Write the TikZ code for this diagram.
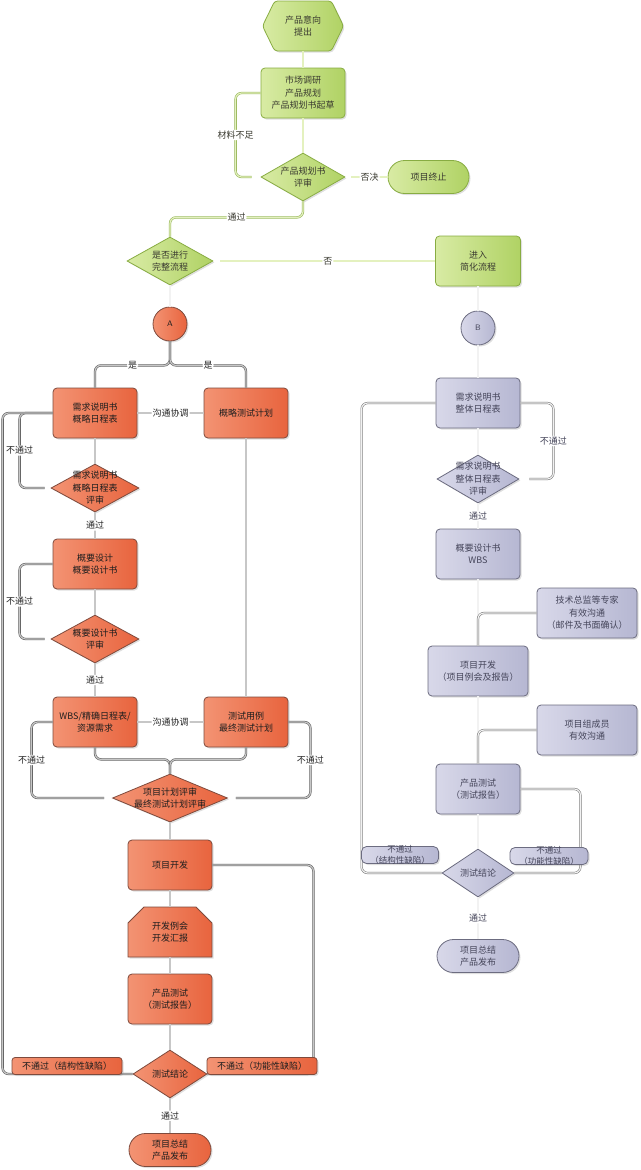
\documentclass[tikz,border=0pt]{standalone}
\usepackage{fontspec}
\setmainfont{Noto Sans CJK SC}
\usetikzlibrary{shapes.geometric,shapes.misc,shapes.symbols,shadows,calc}
\definecolor{gL}{HTML}{D8EBA4}
\definecolor{gR}{HTML}{B0D264}
\definecolor{gD}{HTML}{88AC42}
\definecolor{gT}{HTML}{3A3A30}
\definecolor{rL}{HTML}{F39373}
\definecolor{rR}{HTML}{E8643E}
\definecolor{rD}{HTML}{7E4A3C}
\definecolor{rT}{HTML}{1E1E1E}
\definecolor{bL}{HTML}{D8D8E9}
\definecolor{bR}{HTML}{B6B7D2}
\definecolor{bD}{HTML}{6C6C80}
\definecolor{bT}{HTML}{45455A}
\tikzset{
  base/.style={align=center, font=\fontsize{9}{12.5}\selectfont, inner sep=1pt, line width=0.8pt,
     drop shadow={opacity=0.25, shadow xshift=1.5pt, shadow yshift=-1.5pt}},
  gsty/.style={base, draw=gD, left color=gL, right color=gR, text=gT},
  rsty/.style={base, draw=rD, left color=rL, right color=rR, text=rT},
  bsty/.style={base, draw=bD, left color=bL, right color=bR, text=bT},
  box/.style={rectangle, rounded corners=4pt, minimum width=84pt, minimum height=50pt},
  dia/.style={diamond, inner sep=0pt, minimum height=48pt},
  stad/.style={rounded rectangle, minimum width=84pt, minimum height=33pt},
  lbl/.style={align=center, font=\fontsize{9}{12.5}\selectfont, inner sep=0pt},
  elab/.style={fill=white, inner sep=1pt, font=\fontsize{9}{11}\selectfont, text=#1},
  elab/.default={black!85},
  gline/.style={draw=gD!90, line width=0.55pt, double=gL!70, double distance=1.2pt, rounded corners=6pt},
  rline/.style={draw=black!65, line width=0.55pt, double=black!22, double distance=1.2pt, rounded corners=6pt},
  bline/.style={draw=black!55, line width=0.5pt, double=black!5, double distance=1.2pt, rounded corners=6pt},
}
\begin{document}
\begin{tikzpicture}[x=1pt,y=-1pt]
\useasboundingbox (0,0) rectangle (640,1170);
% ---------- green ----------
\node[gsty, signal, signal to=east and west, signal pointer angle=128, rounded corners=3pt, minimum width=81pt, minimum height=50pt] (start) at (303,26) {产品意向\\提出};
\node[gsty, box] (mkt) at (303,93) {市场调研\\产品规划\\产品规划书起草};
\node[gsty, dia, minimum width=84pt, label={[lbl,text=gT]center:{产品规划书\\评审}}] (rev1) at (303,177) {};
\node[gsty, stad, minimum width=83pt] (stop) at (428.5,177) {项目终止};
\node[gsty, dia, minimum width=86pt, label={[lbl,text=gT]center:{是否进行\\完整流程}}] (full) at (170,261) {};
\node[gsty, box, minimum width=85pt] (simp) at (478,261) {进入\\简化流程};
\node[rsty, circle, minimum size=34pt, inner sep=0pt, font=\sffamily\fontsize{8}{9}\selectfont] (A) at (170,324) {A};
\node[bsty, circle, minimum size=34pt, inner sep=0pt, font=\sffamily\fontsize{8}{9}\selectfont] (B) at (478,328) {B};
% ---------- red ----------
\node[rsty, box] (req) at (95,413) {需求说明书\\概略日程表};
\node[rsty, box] (tplan) at (246,413) {概略测试计划};
\node[rsty, dia, minimum width=88pt, label={[lbl,text=rT]center:{需求说明书\\概略日程表\\评审}}] (rdia) at (95,488) {};
\node[rsty, box] (hl) at (95,564) {概要设计\\概要设计书};
\node[rsty, dia, minimum width=88pt, label={[lbl,text=rT]center:{概要设计书\\评审}}] (hldia) at (95,639) {};
\node[rsty, box] (wbs) at (95,722) {WBS/精确日程表/\\资源需求};
\node[rsty, box] (tcase) at (246,722) {测试用例\\最终测试计划};
\node[rsty, dia, minimum width=115pt, label={[lbl,text=rT]center:{项目计划评审\\最终测试计划评审}}] (pdia) at (170,798) {};
\node[rsty, box] (dev) at (170,865) {项目开发};
\node[rsty, chamfered rectangle, chamfered rectangle corners={north west,north east}, chamfered rectangle xsep=8pt, chamfered rectangle ysep=8pt, minimum width=84pt, minimum height=50pt, inner sep=1pt] (meet) at (170,932) {开发例会\\开发汇报};
\node[rsty, box] (ptest) at (170,999) {产品测试\\（测试报告）};
\node[rsty, dia, minimum width=74pt, label={[lbl,text=rT]center:{测试结论}}] (tconc) at (170,1074) {};
\node[rsty, stad] (sum) at (170,1150) {项目总结\\产品发布};
% ---------- blue ----------
\node[bsty, box] (breq) at (478,403) {需求说明书\\整体日程表};
\node[bsty, dia, minimum width=82pt, label={[lbl,text=bT]center:{需求说明书\\整体日程表\\评审}}] (bdia) at (478,479) {};
\node[bsty, box] (bhl) at (478,554) {概要设计书\\WBS};
\node[bsty, box, minimum width=100pt] (tech) at (587,613) {技术总监等专家\\有效沟通\\（邮件及书面确认）};
\node[bsty, box, minimum width=100pt] (bdev) at (478,671) {项目开发\\（项目例会及报告）};
\node[bsty, box, minimum width=100pt] (team) at (587,730) {项目组成员\\有效沟通};
\node[bsty, box] (btest) at (478,789) {产品测试\\（测试报告）};
\node[bsty, dia, minimum width=72pt, label={[lbl,text=bT]center:{测试结论}}] (bconc) at (478,873) {};
\node[bsty, stad] (bsum) at (478,956) {项目总结\\产品发布};
% ---------- green connectors ----------
\draw[gline] (start.south) -- (mkt.north);
\draw[gline] (mkt.south) -- (rev1.north);
\draw[gline] ([xshift=-9pt]rev1.west) -| ([xshift=-25pt]mkt.west) node[pos=0.75, elab=gT]{材料不足} -- (mkt.west);
\draw[gline] ([xshift=6pt]rev1.east) -- (stop.west) node[midway, elab=gT]{否决};
\draw[gline] (rev1.south) -- ++(0,16) -| (full.north) node[pos=0.25, elab=gT]{通过};
\draw[gline] ([xshift=7pt]full.east) -- (simp.west) node[midway, elab=gT]{否};
\draw[bline] (full.south) -- (A.north);
\draw[bline] (simp.south) -- (B.north);
% ---------- red connectors ----------
\draw[rline] (A.south) -- ++(0,24) -| (req.north) node[pos=0.25, elab]{是};
\draw[rline] (A.south) -- ++(0,24) -| (tplan.north) node[pos=0.25, elab]{是};
\draw[rline] (req.east) -- (tplan.west) node[midway, elab]{沟通协调};
\draw[rline] (req.south) -- (rdia.north);
\draw[rline] ([xshift=-6pt]rdia.west) -| ([xshift=-33pt]req.west) node[pos=0.75, elab]{不通过} -- (req.west);
\draw[rline] (tconc.west) -| ([xshift=-50pt]req.west) -- (req.west);
\draw[rline] (rdia.south) -- (hl.north) node[midway, elab]{通过};
\draw[rline] (hl.south) -- (hldia.north);
\draw[rline] ([xshift=-6pt]hldia.west) -| ([xshift=-33pt]hl.west) node[pos=0.75, elab]{不通过} -- (hl.west);
\draw[rline] (hldia.south) -- (wbs.north) node[midway, elab]{通过};
\draw[rline] (tplan.south) -- (tcase.north);
\draw[rline] (wbs.east) -- (tcase.west) node[midway, elab]{沟通协调};
\draw[rline] (wbs.south) -- ++(0,12) -| (pdia.north);
\draw[rline] (tcase.south) -- ++(0,12) -| (pdia.north);
\draw[rline] ([xshift=-8pt]pdia.west) -| ([xshift=-21pt]wbs.west) node[pos=0.75, elab]{不通过} -- (wbs.west);
\draw[rline] ([xshift=8pt]pdia.east) -| ([xshift=22pt]tcase.east) node[pos=0.75, elab]{不通过} -- (tcase.east);
\draw[rline] (pdia.south) -- (dev.north);
\draw[rline] (dev.south) -- (meet.north);
\draw[rline] (meet.south) -- (ptest.north);
\draw[rline] (ptest.south) -- (tconc.north);
\draw[rline] (tconc.east) -| ([xshift=101pt]dev.east) -- (dev.east);
\draw[rline] (tconc.south) -- (sum.north) node[midway, elab]{通过};
\node[rsty, rectangle, rounded corners=3pt, minimum width=110pt, minimum height=17pt, inner sep=0pt, font=\fontsize{9}{11}\selectfont] (sdef) at (67,1066) {不通过（结构性缺陷）};
\node[rsty, rectangle, rounded corners=3pt, minimum width=110pt, minimum height=17pt, inner sep=0pt, font=\fontsize{9}{11}\selectfont] (fdef) at (262,1066) {不通过（功能性缺陷）};
% ---------- blue connectors ----------
\draw[bline] (B.south) -- (breq.north);
\draw[bline] (breq.south) -- (bdia.north);
\draw[bline] ([xshift=10pt]bdia.east) -| ([xshift=33pt]breq.east) node[pos=0.75, elab=bT]{不通过} -- (breq.east);
\draw[bline] (bconc.west) -| ([xshift=-74pt]breq.west) -- (breq.west);
\draw[bline] (bdia.south) -- (bhl.north) node[midway, elab=bT]{通过};
\draw[bline] (bhl.south) -- (bdev.north);
\draw[bline] (tech.west) -| (bdev.north);
\draw[bline] (bdev.south) -- (btest.north);
\draw[bline] (team.west) -| (btest.north);
\draw[bline] (btest.south) -- (bconc.north);
\draw[bline] (bconc.east) -| ([xshift=60pt]btest.east) -- (btest.east);
\draw[bline] (bconc.south) -- (bsum.north) node[midway, elab=bT]{通过};
\node[bsty, rectangle, rounded corners=5pt, minimum width=77pt, minimum height=17pt, inner sep=0pt, label={[lbl,text=bT,font=\fontsize{8.5}{10.5}\selectfont]center:{不通过\\（结构性缺陷）}}] (bsdef) at (400,855) {};
\node[bsty, rectangle, rounded corners=5pt, minimum width=78pt, minimum height=17pt, inner sep=0pt, label={[lbl,text=bT,font=\fontsize{8.5}{10.5}\selectfont]center:{不通过\\（功能性缺陷）}}] (bfdef) at (549,856) {};
\end{tikzpicture}
\end{document}
